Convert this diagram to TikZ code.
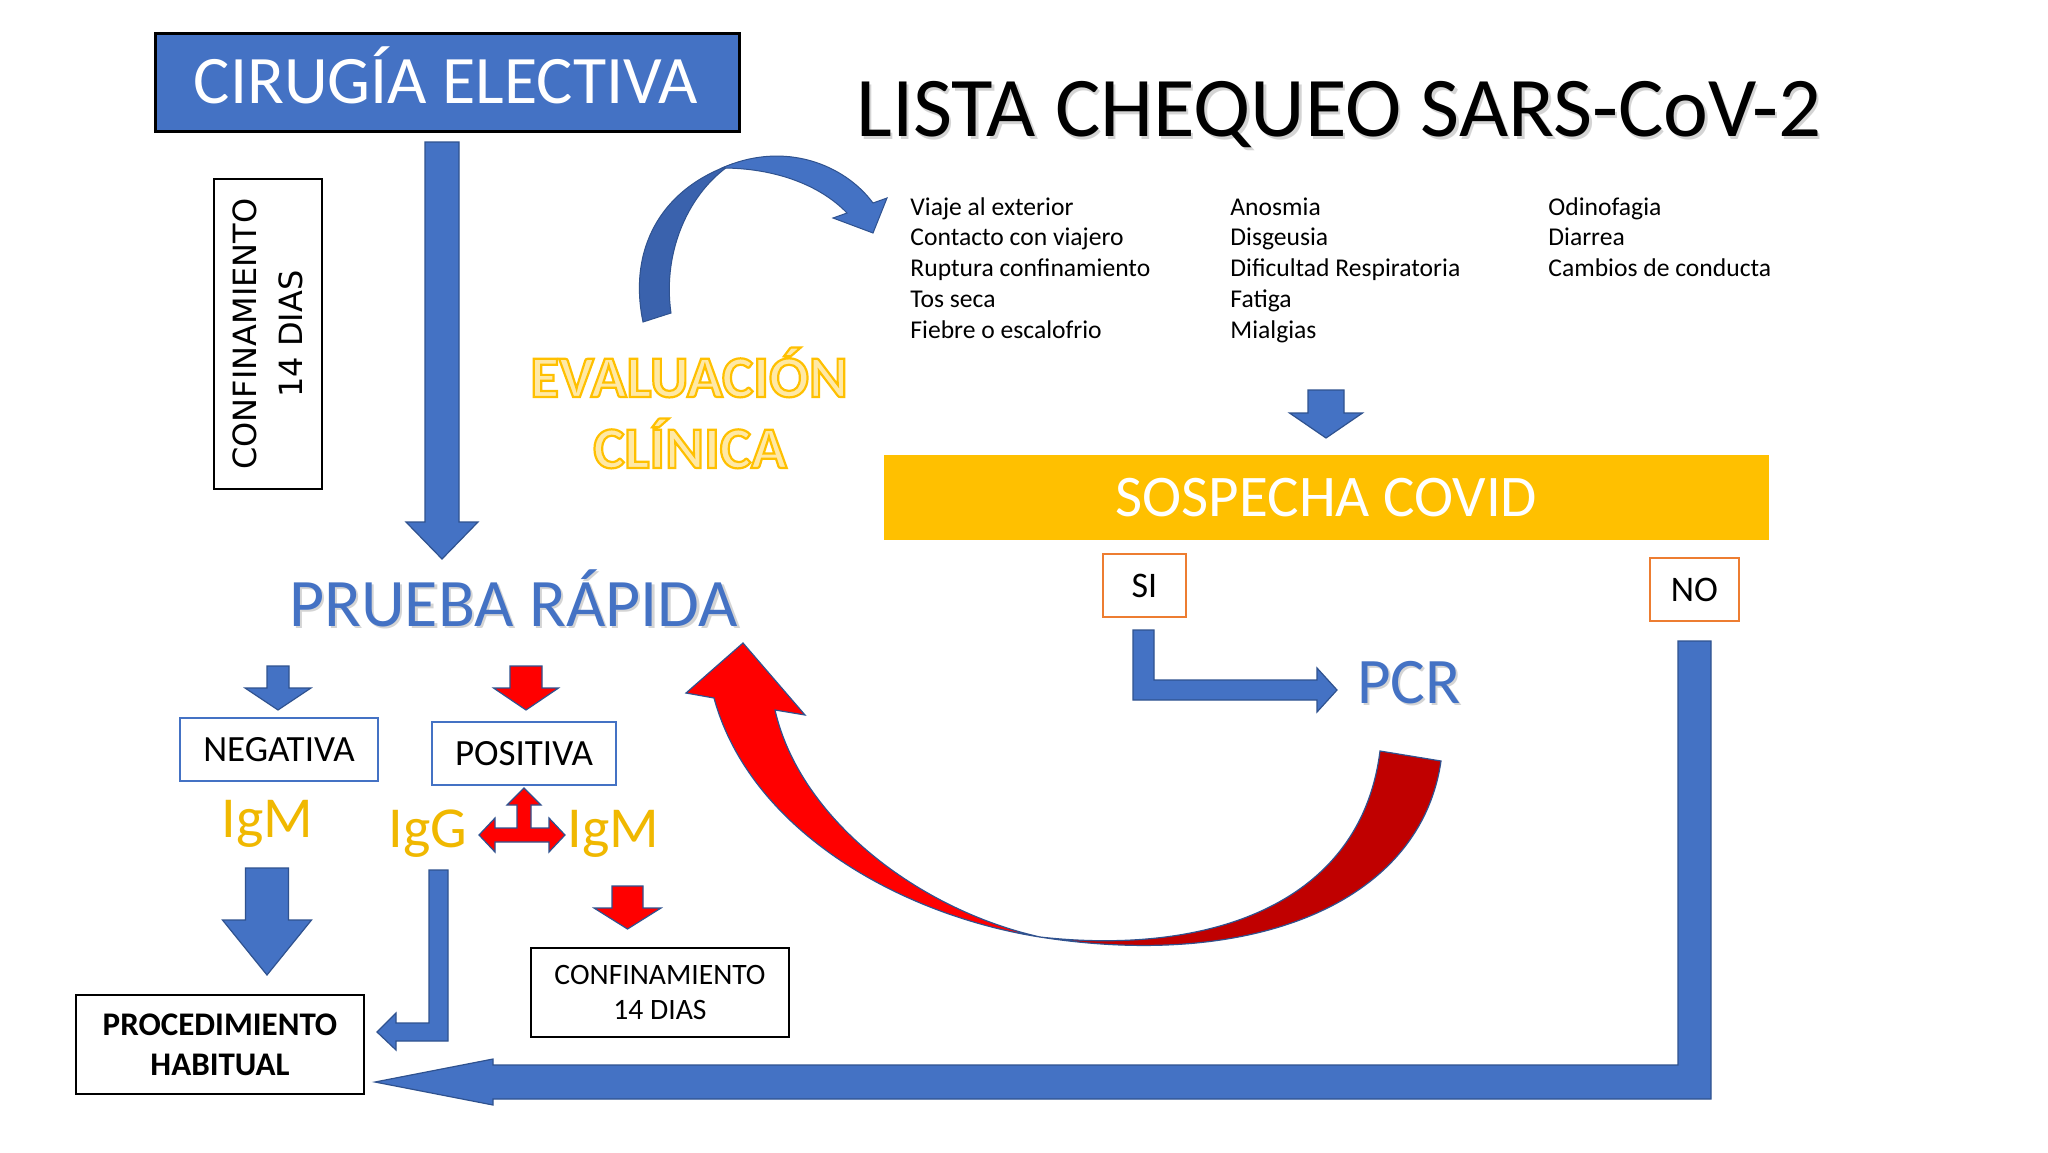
\documentclass[tikz,border=0pt]{standalone}
\usepackage{fontspec}
\setmainfont{Carlito}
\newfontfamily\dejavu{DejaVu Sans}
\definecolor{cblue}{HTML}{4472C4}
\definecolor{cbluedk}{HTML}{2F528F}
\definecolor{cbluemid}{HTML}{3A62AD}
\definecolor{cgold}{HTML}{FFC000}
\definecolor{corange}{HTML}{ED7D31}
\definecolor{cred}{HTML}{FF0000}
\definecolor{creddk}{HTML}{C00000}
\definecolor{cpale}{HTML}{FFE9A6}
\definecolor{cig}{HTML}{F0B800}
\newcommand{\mydownarrow}[7]{%
  \filldraw[#7] ({#1-#5},#2) -- ({#1+#5},#2) -- ({#1+#5},#3) -- ({#1+#6},#3) -- (#1,#4) -- ({#1-#6},#3) -- ({#1-#5},#3) -- cycle;}
\newcommand{\goldoutline}[1]{{\color{cpale}\special{pdf:literal direct 2 Tr 1.1 w 1 0.753 0 RG}#1\special{pdf:literal direct 0 Tr}}}
\tikzset{
  blockblue/.style={fill=cblue, draw=cbluedk, line width=0.6pt, line join=miter},
  blockred/.style={fill=cred, draw=cbluedk, line width=0.6pt, line join=miter},
  bluebox/.style={draw=cblue, line width=1pt, fill=white, inner sep=0pt, align=center, text=black},
  orangebox/.style={draw=corange, line width=1.2pt, fill=white, inner sep=0pt, align=center, text=black},
  blackbox/.style={draw=black, line width=1.1pt, fill=white, inner sep=0pt, align=center, text=black},
  symp/.style={inner sep=0pt, anchor=base west, font=\fontsize{12.8}{15}\selectfont, text=black},
  igtext/.style={inner sep=0pt, anchor=base, font=\fontsize{29}{34}\selectfont, text=cig},
  shadowtxt/.style={inner sep=0pt, anchor=base, text=black!30, opacity=0.55}
}
\begin{document}
\begin{tikzpicture}[x=0.5pt,y=-0.5pt]
\useasboundingbox (0,0) rectangle (2048,1152);
\fill[white] (0,0) rectangle (2048,1152);

% ---- CIRUGIA ELECTIVA ----
\node[draw=black, line width=1.5pt, fill=cblue, minimum width=292pt, minimum height=49pt, inner sep=0pt] (cirugia) at (447,82) {};
\node[inner sep=0pt, anchor=base, text=white, font=\fontsize{34}{40}\selectfont] (cirugiatxt) at (446,103) {CIRUGÍA ELECTIVA};

% ---- title ----
\node[shadowtxt, font=\fontsize{42.5}{48}\selectfont] (listashadow) at (1341.5,139) {LISTA CHEQUEO SARS-CoV-2};
\node[inner sep=0pt, anchor=base, text=black, font=\fontsize{42.5}{48}\selectfont] (lista) at (1339,136) {LISTA CHEQUEO SARS-CoV-2};

% ---- rotated confinamiento ----
\node[blackbox, line width=1pt, rotate=90, minimum width=155pt, minimum height=54pt, font=\dejavu\fontsize{16}{23}\selectfont] (confrot) at (268,334) {CONFINAMIENTO\\14 DIAS};

% ---- main down arrow ----
\mydownarrow{442}{142}{522}{559}{17}{36}{blockblue}

% ---- curved blue arrow ----
\filldraw[fill=cbluemid, draw=cbluedk, line width=0.5pt] (643,322) .. controls (628,250) and (660,190) .. (730,165) .. controls (690,192) and (662,250) .. (671,313) -- cycle;
\filldraw[fill=cblue, draw=cbluedk, line width=0.5pt, line join=miter] (722,168) .. controls (785,140) and (845,165) .. (873,203) -- (887,198) -- (873,233) -- (833,218) -- (847,213) .. controls (820,185) and (775,168) .. (722,168) -- cycle;

% ---- EVALUACION CLINICA ----
\node[inner sep=0pt, anchor=base, font=\bfseries\fontsize{29.5}{34}\selectfont] (eval1) at (689,397) {\goldoutline{EVALUACIÓN}};
\node[inner sep=0pt, anchor=base, font=\bfseries\fontsize{29.5}{34}\selectfont] (eval2) at (690,468) {\goldoutline{CLÍNICA}};

% ---- symptoms ----
\foreach \t [count=\i from 0] in {Viaje al exterior, Contacto con viajero, Ruptura confinamiento, Tos seca, Fiebre o escalofrio}
  \node[symp] (ca\i) at (910,{215+30.75*\i}) {\t};
\foreach \t [count=\i from 0] in {Anosmia, Disgeusia, Dificultad Respiratoria, Fatiga, Mialgias}
  \node[symp] (cb\i) at (1230,{215+30.75*\i}) {\t};
\foreach \t [count=\i from 0] in {Odinofagia, Diarrea, Cambios de conducta}
  \node[symp] (cc\i) at (1548,{215+30.75*\i}) {\t};

% ---- arrow to SOSPECHA ----
\mydownarrow{1326}{390}{413}{438}{18}{36.5}{blockblue}

% ---- SOSPECHA COVID ----
\node[fill=cgold, minimum width=442.5pt, minimum height=42.5pt, inner sep=0pt] (sospecha) at (1326.5,497.5) {};
\node[inner sep=0pt, anchor=base, text=white, font=\fontsize{29.5}{34}\selectfont] (sospechatxt) at (1326.5,516.5) {SOSPECHA COVID};

% ---- SI / NO ----
\node[orangebox, minimum width=41.5pt, minimum height=31.5pt, font=\fontsize{18}{21}\selectfont] (si) at (1144.5,585.5) {SI};
\node[orangebox, minimum width=44.5pt, minimum height=31.5pt, font=\fontsize{18}{21}\selectfont] (no) at (1694.5,589.5) {NO};

% ---- SI -> PCR ----
\filldraw[blockblue] (1133,630) -- (1154,630) -- (1154,680) -- (1317,680) -- (1317,668) -- (1337,690) -- (1317,712) -- (1317,700) -- (1133,700) -- cycle;
\node[shadowtxt, font=\fontsize{32.5}{36}\selectfont] (pcrshadow) at (1411,705.5) {PCR};
\node[inner sep=0pt, anchor=base, text=cblue, font=\fontsize{32.5}{36}\selectfont] (pcr) at (1409,703) {PCR};

% ---- NO -> PROCEDIMIENTO ----
\filldraw[blockblue] (1678,641) -- (1711,641) -- (1711,1099) -- (493,1099) -- (493,1105) -- (375,1082) -- (493,1059) -- (493,1065) -- (1678,1065) -- cycle;

% ---- red curved arrow PCR -> PRUEBA ----
\filldraw[fill=cred, draw=cbluedk, line width=0.6pt, line join=miter] (1040,937) .. controls (900,915) and (750,830) .. (714,698) -- (686,693) -- (743,643) -- (805,715) -- (775,710) .. controls (800,820) and (920,910) .. (1040,937) -- cycle;
\filldraw[fill=creddk, draw=cbluedk, line width=0.6pt] (1040,937) .. controls (1200,955) and (1360,910) .. (1380,751) -- (1441,761) .. controls (1420,905) and (1250,970) .. (1040,937) -- cycle;

% ---- PRUEBA RAPIDA ----
\node[shadowtxt, font=\fontsize{34}{40}\selectfont] (pruebashadow) at (516,628.5) {PRUEBA RÁPIDA};
\node[inner sep=0pt, anchor=base, text=cblue, font=\fontsize{34}{40}\selectfont] (prueba) at (513.5,626) {PRUEBA RÁPIDA};

% ---- small arrows ----
\mydownarrow{278}{666}{688}{710}{11}{33}{blockblue}
\mydownarrow{526}{666}{688}{710}{16}{32.5}{blockred}

% ---- NEGATIVA / POSITIVA ----
\node[bluebox, minimum width=99pt, minimum height=31.5pt, font=\fontsize{18.5}{21}\selectfont] (negativa) at (279,749.5) {NEGATIVA};
\node[bluebox, minimum width=92pt, minimum height=31.5pt, font=\fontsize{18.5}{21}\selectfont] (positiva) at (524,753.5) {POSITIVA};

% ---- Ig labels ----
\node[igtext] (igmleft) at (267.5,837) {IgM};
\node[igtext] (igg) at (428,847) {IgG};
\node[igtext] (igmright) at (613.5,847) {IgM};

% ---- red T arrow ----
\filldraw[blockred] (479,835) -- (495,818) -- (495,828) -- (517,828) -- (517,805) -- (507,805) -- (524,788) -- (541,805) -- (531,805) -- (531,828) -- (549,828) -- (549,818) -- (565,835) -- (549,852) -- (549,842) -- (495,842) -- (495,852) -- cycle;

% ---- big blue down arrow ----
\mydownarrow{267}{868}{920}{975}{21.5}{44.5}{blockblue}

% ---- IgG elbow ----
\filldraw[blockblue] (429,870) -- (448,870) -- (448,1041) -- (396,1041) -- (396,1050) -- (377,1032) -- (396,1013) -- (396,1023) -- (429,1023) -- cycle;

% ---- red arrow to confinamiento ----
\mydownarrow{627.5}{886}{908}{929}{15.5}{33.5}{blockred}

% ---- CONFINAMIENTO box ----
\node[blackbox, line width=1pt, minimum width=129pt, minimum height=44.5pt, font=\fontsize{14.8}{17.5}\selectfont] (confbox) at (660,992.5) {CONFINAMIENTO\\14 DIAS};

% ---- PROCEDIMIENTO HABITUAL ----
\node[blackbox, line width=1.3pt, minimum width=144pt, minimum height=49.5pt, font=\bfseries\fontsize{16.5}{20}\selectfont] (proc) at (220,1044.5) {PROCEDIMIENTO\\HABITUAL};
\end{tikzpicture}
\end{document}
